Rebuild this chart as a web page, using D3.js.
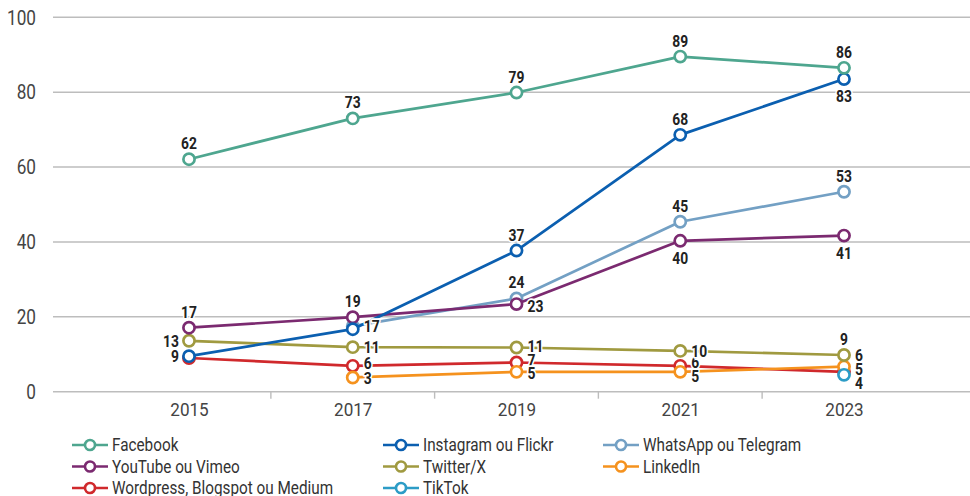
<!DOCTYPE html>
<html>
<head>
<meta charset="utf-8">
<script src="https://cdn.jsdelivr.net/npm/d3@7"></script>
<style>
  html, body { margin: 0; padding: 0; background: #fff; }
  svg { display: block; }
  text { font-family: "Roboto", "Liberation Sans", sans-serif; }
</style>
</head>
<body>
<svg id="chart" width="970" height="496"></svg>
<script>
// ---------- DATA ----------
const years = [2015, 2017, 2019, 2021, 2023];
const yTicks = [0, 20, 40, 60, 80, 100];
const minorTicks = [2016, 2018, 2020, 2022];

const seriesNames = [
  "Facebook", "Instagram ou Flickr", "WhatsApp ou Telegram",
  "YouTube ou Vimeo", "Twitter/X", "LinkedIn",
  "Wordpress, Blogspot ou Medium", "TikTok"
];
const facebook  = [62.1, 73.0, 79.9, 89.5, 86.5];
const instagram = [9.5, 16.7, 37.7, 68.6, 83.5];
const whatsapp  = [null, 17.5, 24.9, 45.4, 53.4];
const youtube   = [17.1, 19.9, 23.4, 40.3, 41.7];
const twitter   = [13.6, 11.9, 11.8, 10.9, 9.8];
const linkedin  = [null, 3.8, 5.3, 5.3, 6.7];
const wordpress = [9.0, 6.9, 7.8, 6.9, 5.3];
const tiktok    = [null, null, null, null, 4.5];

// label texts shown next to the points
const facebookLabels  = ["62", "73", "79", "89", "86"];
const instagramLabels = ["9", "", "37", "68", "83"];
const whatsappLabels  = ["", "17", "24", "45", "53"];
const youtubeLabels   = ["17", "19", "23", "40", "41"];
const twitterLabels   = ["13", "11", "11", "10", "9"];
const linkedinLabels  = ["", "3", "5", "5", "6"];
const wordpressLabels = ["", "6", "7", "6", "5"];
const tiktokLabels    = ["", "", "", "", "4"];

// ---------- STYLE / LAYOUT ----------
const colors = ["#4ea68f", "#0b5fb0", "#73a0c4", "#7b2a70", "#a09a40", "#f5921e", "#d0292c", "#2c9cc6"];
const valueSets = [facebook, instagram, whatsapp, youtube, twitter, linkedin, wordpress, tiktok];
const labelSets = [facebookLabels, instagramLabels, whatsappLabels, youtubeLabels, twitterLabels, linkedinLabels, wordpressLabels, tiktokLabels];
// placement: t=top, b=bottom, r=right, l=left ; optional extra dy
const placements = [
  [["t"], ["t"], ["t"], ["t"], ["t"]],
  [["l"], ["r"], ["t"], ["t"], ["b"]],
  [["r"], ["r"], ["t"], ["t"], ["t"]],
  [["t"], ["t"], ["r", 2], ["b"], ["b"]],
  [["l"], ["r"], ["r", -1.5], ["r"], ["t"]],
  [["r"], ["r", 1], ["r", 1.5], ["r", 4], ["r", -11.5]],
  [["r"], ["r", -3], ["r", -2.5], ["r", -4], ["r", -2.5]],
  [["r"], ["r"], ["r"], ["r"], ["r", 8.5]]
];
const drawOrder = [6, 5, 7, 4, 2, 3, 1, 0];

const svg = d3.select("#chart");
const plotLeft = 53, plotRight = 970;

const x = d3.scaleLinear().domain([2015, 2023]).range([189, 844]);
const y = d3.scaleLinear().domain([0, 100]).range([391.7, 17.3]);

function addText(g, tx, ty, str, o) {
  return g.append("text")
    .attr("transform", `translate(${tx},${ty}) scale(${o.sx || 1},1)`)
    .attr("dy", "0.36em")
    .attr("text-anchor", o.anchor || "start")
    .attr("font-size", o.size)
    .attr("font-weight", o.weight || "normal")
    .attr("fill", o.fill || "#333")
    .text(str);
}

// gridlines
svg.append("g").selectAll("line").data(yTicks).join("line")
  .attr("x1", plotLeft).attr("x2", plotRight)
  .attr("y1", d => y(d)).attr("y2", d => y(d))
  .attr("stroke", "#bdbdbd").attr("stroke-width", 1.4);

// y tick labels
const gy = svg.append("g");
yTicks.forEach(t => addText(gy, 36, y(t), String(t), { anchor: "end", size: 20, sx: 0.86, fill: "#444" }));

// x axis (ticks from axis generator, labels restyled)
const xAxis = d3.axisBottom(x).tickValues(years).tickSize(0).tickPadding(0).tickFormat(d3.format("d"));
const gx = svg.append("g").attr("transform", `translate(0,${y(0)})`).call(xAxis);
gx.select(".domain").remove();
gx.selectAll("text")
  .attr("y", 0).attr("dy", null)
  .attr("transform", "translate(0,19) scale(0.9,1)")
  .attr("dominant-baseline", "middle")
  .attr("font-size", 19).attr("fill", "#444").attr("font-family", null);
svg.append("g").selectAll("line").data(minorTicks).join("line")
  .attr("x1", d => x(d)).attr("x2", d => x(d))
  .attr("y1", y(0)).attr("y2", y(0) + 7)
  .attr("stroke", "#bdbdbd").attr("stroke-width", 1.4);

// series
const line = d3.line().defined(d => d.v != null).x(d => x(d.year)).y(d => y(d.v));
const labelLayer = [];
drawOrder.forEach(si => {
  const pts = years.map((yr, i) => ({ year: yr, v: valueSets[si][i], lab: labelSets[si][i], pl: placements[si][i] }));
  const g = svg.append("g");
  g.append("path").datum(pts).attr("d", line)
    .attr("fill", "none").attr("stroke", colors[si]).attr("stroke-width", 2.7)
    .attr("stroke-linejoin", "round");
  g.selectAll("circle").data(pts.filter(p => p.v != null)).join("circle")
    .attr("cx", p => x(p.year)).attr("cy", p => y(p.v)).attr("r", 5.6)
    .attr("fill", "#fff").attr("stroke", colors[si]).attr("stroke-width", 2.7);
  pts.forEach(p => { if (p.v != null && p.lab) labelLayer.push(p); });
});

const lg = svg.append("g");
labelLayer.forEach(p => {
  const cx = x(p.year), cy = y(p.v);
  const pos = p.pl[0], extra = p.pl[1] || 0;
  let tx = cx, ty = cy, anchor = "middle";
  if (pos === "t") { ty = cy - 16; }
  else if (pos === "b") { ty = cy + 17; }
  else if (pos === "r") { tx = cx + 11; anchor = "start"; }
  else if (pos === "l") { tx = cx - 10; anchor = "end"; }
  ty += extra;
  addText(lg, tx, ty, p.lab, { anchor, size: 16.5, weight: "bold", sx: 0.84, fill: "#222" })
    .attr("stroke", "#fff").attr("stroke-width", 3.5)
    .attr("paint-order", "stroke").attr("stroke-linejoin", "round");
});

// legend
const legCols = [72, 383, 603];
const legRows = [445, 466.5, 488];
const leg = svg.append("g");
seriesNames.forEach((name, i) => {
  const cx = legCols[i % 3], cy = legRows[Math.floor(i / 3)];
  const it = leg.append("g").attr("transform", `translate(${cx},${cy})`);
  it.append("line").attr("x1", 0).attr("x2", 36).attr("y1", 0).attr("y2", 0)
    .attr("stroke", colors[i]).attr("stroke-width", 2.6);
  it.append("circle").attr("cx", 18).attr("cy", 0).attr("r", 5)
    .attr("fill", "#fff").attr("stroke", colors[i]).attr("stroke-width", 2.6);
  addText(it, 40, 0, name, { size: 18, sx: 0.85, fill: "#333" });
});
</script>
</body>
</html>
